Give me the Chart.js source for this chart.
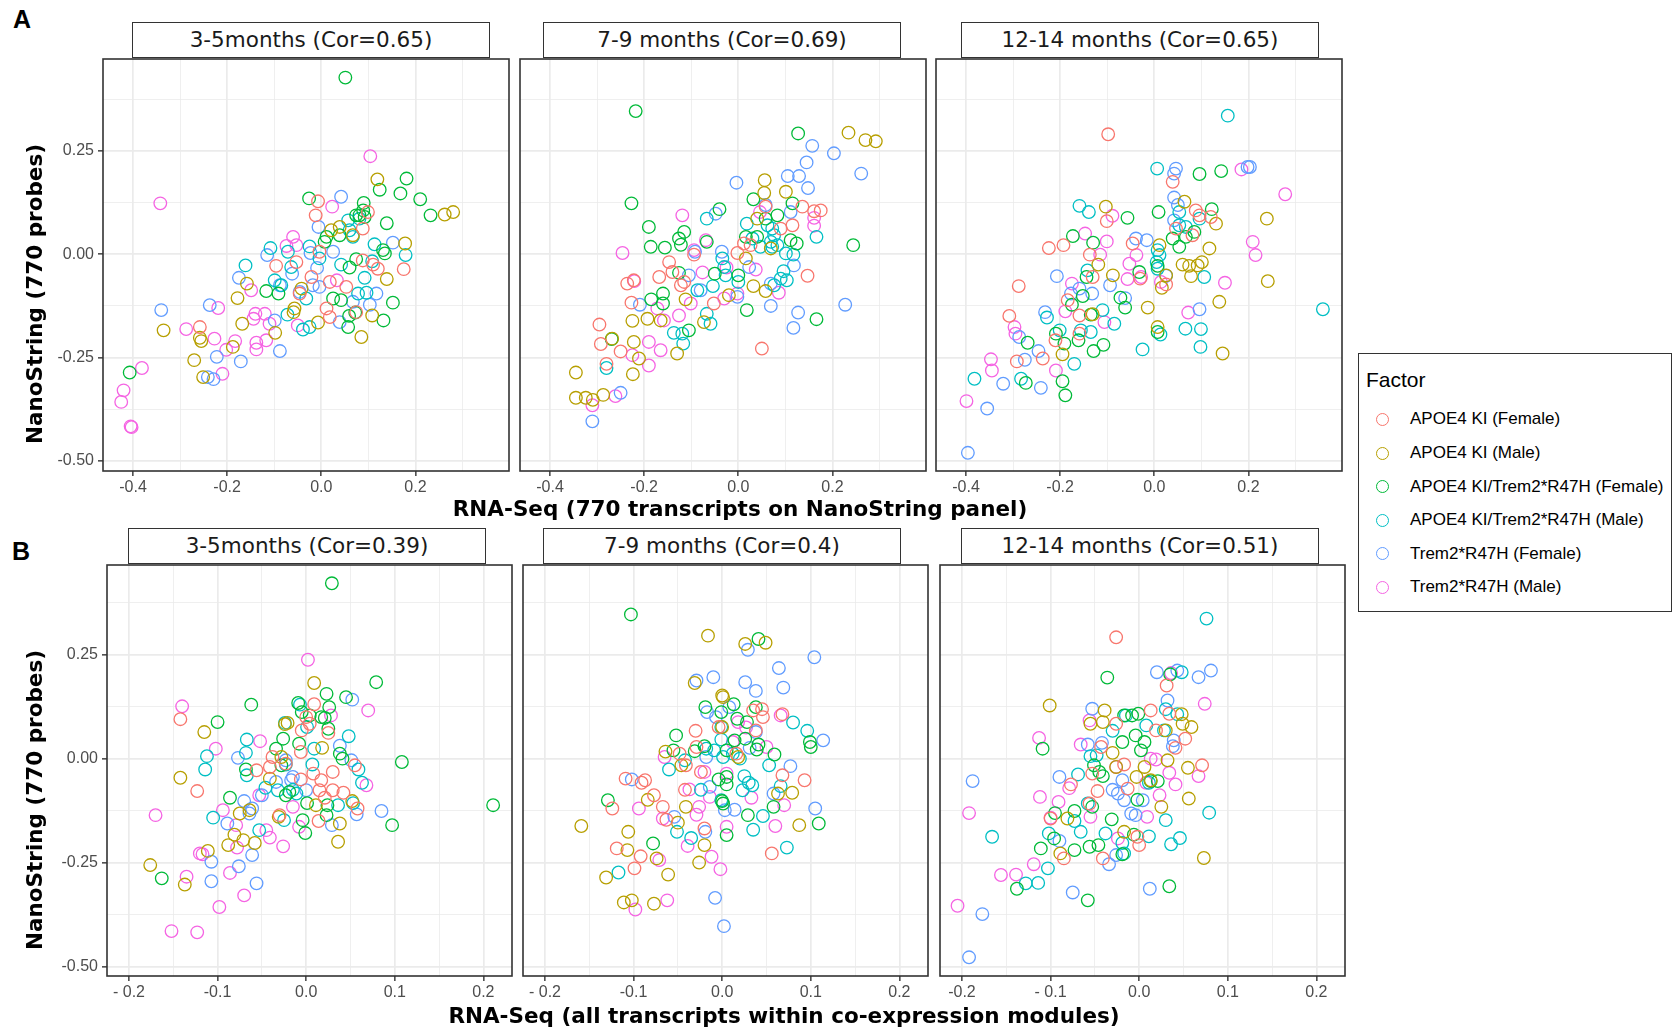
<!DOCTYPE html>
<html>
<head>
<meta charset="utf-8">
<script src="https://cdn.jsdelivr.net/npm/chart.js@4.4.0/dist/chart.umd.min.js"></script>
<style>
  body { margin: 0; width: 1673px; height: 1032px; background: #fff; position: relative; overflow: hidden; font-family: "Liberation Sans", Arial, sans-serif; color: #000; }
  canvas { position: absolute; }
  .strip { position: absolute; box-sizing: border-box; border: 1.5px solid #333; background: #fff; font-family: "DejaVu Sans", sans-serif; font-size: 21.5px; color: #1a1a1a; text-align: center; white-space: nowrap; }
  .tag { position: absolute; font-weight: bold; font-size: 25px; line-height: 25px; }
  .axtitle { position: absolute; font-family: "DejaVu Sans", sans-serif; font-weight: bold; font-size: 21.5px; line-height: 24px; white-space: nowrap; transform: translate(-50%, -50%); }
  .axtitle.rot { transform: translate(-50%, -50%) rotate(-90deg); }
  #legend { position: absolute; left: 1358px; top: 353px; width: 314px; height: 259px; box-sizing: border-box; border: 1.5px solid #333; background: #fff; }
  #legend .title { position: absolute; left: 7px; top: 14px; font-size: 21px; line-height: 24px; }
  #legend .item { position: absolute; left: 17px; height: 20px; display: flex; align-items: center; font-size: 17px; white-space: nowrap; }
  #legend .dot { width: 11px; height: 11px; border-radius: 50%; border: 1.4px solid; margin-right: 21px; }
</style>
</head>
<body>
<div class="tag" style="left:13px;top:7px">A</div>
<div class="tag" style="left:12px;top:539px">B</div>
<div id="legend"><div class="title">Factor</div></div>
<script>
const groups = ['APOE4 KI (Female)', 'APOE4 KI (Male)', 'APOE4 KI/Trem2*R47H (Female)', 'APOE4 KI/Trem2*R47H (Male)', 'Trem2*R47H (Female)', 'Trem2*R47H (Male)'];
const colors = ['#F8766D', '#B79F00', '#00BA38', '#00BFC4', '#619CFF', '#F564E3'];

const titlesA = ['3-5months (Cor=0.65)', '7-9 months (Cor=0.69)', '12-14 months (Cor=0.65)'];
const titlesB = ['3-5months (Cor=0.39)', '7-9 months (Cor=0.4)', '12-14 months (Cor=0.51)'];
const xTitleA = 'RNA-Seq (770 transcripts on NanoString panel)';
const xTitleB = 'RNA-Seq (all transcripts within co-expression modules)';
const yTitle = 'NanoString (770 probes)';

const yMajor = [-0.5, -0.25, 0, 0.25];
const yMinor = [-0.375, -0.125, 0.125, 0.375];
const yLabels = ['-0.50', '-0.25', '0.00', '0.25'];
const xMajorA = [-0.4, -0.2, 0, 0.2];
const xMinorA = [-0.3, -0.1, 0.1, 0.3];
const xLabelsA = ['-0.4', '-0.2', '0.0', '0.2'];
const xMajorB = [-0.2, -0.1, 0, 0.1, 0.2];
const xMinorB = [-0.15, -0.05, 0.05, 0.15];
const xLabelsB1 = ['- 0.2', '-0.1', '0.0', '0.1', '0.2'];
const xLabelsB2 = ['- 0.2', '-0.1', '0.0', '0.1', '0.2'];
const xLabelsB3 = ['-0.2', '- 0.1', '0.0', '0.1', '0.2'];

// Row A, 3-5 months
const a1ApoeF = [[-0.007,0.128],[-0.012,0.094],[0.099,0.102],[0.088,0.062],[0.175,-0.036],[0.120,-0.035],[0.110,-0.025],[0.088,-0.015],[-0.096,-0.028],[-0.053,-0.019],[-0.021,-0.055],[0.018,-0.067],[0.053,-0.079],[0.011,-0.131],[0.018,-0.152],[-0.046,-0.095],[-0.258,-0.176],[-0.004,0.006],[0.074,-0.140]];
const a1ApoeM = [[0.119,0.181],[0.262,0.096],[0.280,0.102],[0.178,0.026],[0.139,-0.060],[0.108,-0.148],[0.085,-0.200],[-0.007,-0.165],[-0.057,-0.131],[-0.059,-0.140],[-0.098,-0.190],[-0.168,-0.168],[-0.178,-0.106],[-0.158,-0.071],[-0.188,-0.224],[-0.258,-0.202],[-0.255,-0.210],[-0.270,-0.256],[-0.251,-0.297],[-0.335,-0.184],[0.021,0.058],[0.039,0.066],[0.067,0.046],[-0.042,-0.083]];
const a1DblF = [[0.051,0.427],[-0.026,0.135],[0.181,0.183],[0.124,0.156],[0.168,0.147],[0.210,0.133],[0.232,0.094],[0.139,0.075],[0.090,0.124],[0.089,0.106],[0.081,0.094],[0.092,0.090],[0.074,0.094],[0.007,0.030],[0.011,0.042],[0.131,0.010],[0.135,0.002],[0.074,-0.012],[0.060,-0.032],[-0.117,-0.089],[-0.091,-0.095],[0.025,-0.107],[0.042,-0.111],[0.152,-0.117],[0.072,-0.141],[0.059,-0.149],[0.132,-0.160],[0.057,-0.176],[-0.407,-0.286],[0.039,0.046]];
const a1DblM = [[-0.108,0.015],[-0.161,-0.027],[-0.025,0.019],[-0.004,-0.010],[-0.071,0.006],[-0.064,-0.031],[-0.099,-0.063],[-0.085,-0.075],[0.042,-0.025],[0.113,0.024],[0.179,-0.002],[0.108,-0.017],[0.092,-0.057],[0.078,-0.095],[0.096,-0.093],[0.067,0.042],[0.060,0.058],[0.057,0.082],[-0.072,-0.146],[-0.039,-0.182],[-0.025,-0.176],[-0.032,-0.107],[0.081,0.086]];
const a1TremF = [[0.042,0.139],[-0.006,0.066],[0.025,0.006],[0.152,0.028],[-0.023,0.003],[-0.009,-0.033],[-0.062,-0.047],[-0.115,-0.002],[-0.175,-0.057],[-0.088,-0.075],[-0.046,-0.091],[-0.004,-0.079],[-0.018,-0.075],[0.117,-0.095],[0.103,-0.122],[0.067,-0.115],[0.039,-0.164],[-0.099,-0.160],[-0.088,-0.234],[-0.171,-0.259],[-0.222,-0.248],[-0.237,-0.123],[-0.340,-0.135],[-0.241,-0.297],[-0.229,-0.302]];
const a1TremM = [[0.104,0.237],[-0.342,0.123],[0.023,0.115],[-0.060,0.042],[-0.053,0.022],[-0.074,0.020],[0.033,-0.063],[-0.149,-0.087],[-0.140,-0.144],[-0.144,-0.156],[-0.120,-0.144],[-0.110,-0.168],[-0.117,-0.208],[-0.138,-0.214],[-0.138,-0.230],[-0.219,-0.130],[-0.287,-0.181],[-0.227,-0.204],[-0.202,-0.231],[-0.183,-0.210],[-0.210,-0.289],[-0.381,-0.275],[-0.420,-0.329],[-0.425,-0.357],[-0.405,-0.416],[-0.403,-0.418],[-0.050,-0.172]];

// Row A, 7-9 months
const a2ApoeF = [[0.136,0.115],[0.161,0.104],[0.175,0.106],[0.115,0.070],[0.058,0.115],[0.147,-0.052],[0.050,-0.228],[-0.002,0.003],[0.012,0.026],[-0.147,-0.019],[-0.168,-0.055],[-0.140,-0.043],[-0.122,-0.075],[-0.115,-0.067],[-0.236,-0.071],[-0.222,-0.063],[-0.227,-0.117],[-0.052,-0.119],[-0.295,-0.170],[-0.292,-0.217],[-0.250,-0.235],[-0.280,-0.265],[-0.094,-0.001],[0.026,0.022],[0.090,0.062]];
const a2ApoeM = [[0.234,0.294],[0.270,0.276],[0.292,0.273],[0.056,0.179],[0.055,0.148],[0.101,0.151],[0.016,-0.010],[0.032,-0.077],[0.058,-0.089],[0.069,0.014],[-0.020,-0.099],[-0.112,-0.109],[-0.073,-0.164],[-0.225,-0.161],[-0.193,-0.156],[-0.165,-0.160],[-0.222,-0.212],[-0.211,-0.252],[-0.130,-0.240],[-0.224,-0.290],[-0.345,-0.286],[-0.345,-0.347],[-0.324,-0.347],[-0.309,-0.352],[-0.287,-0.340],[-0.268,-0.204],[0.040,0.086]];
const a2DblF = [[-0.218,0.346],[-0.227,0.123],[0.127,0.292],[-0.190,0.066],[-0.186,0.018],[-0.156,0.016],[-0.115,0.054],[-0.126,0.038],[-0.122,0.023],[-0.040,0.109],[-0.067,0.030],[-0.126,-0.045],[-0.050,-0.047],[0.000,-0.051],[0.032,0.133],[0.115,0.123],[0.083,0.094],[0.058,0.086],[0.016,0.042],[0.040,0.042],[0.111,0.034],[0.124,0.026],[0.244,0.022],[-0.185,-0.109],[-0.160,-0.095],[-0.160,-0.119],[0.018,-0.135],[0.166,-0.157],[-0.105,-0.184],[-0.269,-0.205]];
const a2DblM = [[-0.067,0.086],[0.018,0.074],[0.062,0.070],[0.072,0.062],[0.076,0.046],[0.069,0.030],[0.083,0.022],[0.072,0.018],[0.030,0.038],[0.047,0.018],[0.101,0.002],[0.117,-0.001],[0.166,0.042],[-0.034,-0.010],[-0.030,-0.031],[-0.027,-0.051],[0.000,-0.067],[-0.054,-0.077],[-0.087,-0.087],[0.096,-0.041],[0.103,-0.063],[0.090,-0.059],[0.076,-0.075],[-0.067,-0.144],[-0.059,-0.168],[-0.137,-0.190],[-0.119,-0.192],[-0.117,-0.216],[-0.280,-0.275]];
const a2TremF = [[-0.004,0.173],[0.157,0.262],[0.145,0.222],[0.203,0.244],[0.261,0.195],[0.105,0.189],[0.129,0.189],[0.148,0.160],[0.058,0.119],[0.111,0.102],[-0.048,0.098],[-0.035,0.006],[-0.105,-0.051],[-0.080,-0.087],[-0.002,-0.103],[0.023,-0.031],[0.069,-0.071],[0.118,-0.027],[0.069,-0.125],[0.127,-0.141],[0.117,-0.178],[0.227,-0.122],[-0.209,-0.122],[-0.250,-0.335],[-0.310,-0.404],[-0.092,0.006]];
const a2TremM = [[-0.119,0.094],[-0.069,0.034],[-0.094,0.010],[-0.246,0.003],[-0.221,-0.065],[-0.076,-0.044],[-0.025,-0.032],[0.037,-0.037],[0.046,0.102],[0.161,0.088],[0.161,0.069],[-0.002,-0.095],[-0.030,-0.107],[0.086,-0.093],[-0.101,-0.119],[-0.172,-0.131],[-0.158,-0.160],[-0.126,-0.148],[-0.190,-0.212],[-0.165,-0.232],[-0.225,-0.244],[-0.190,-0.269],[-0.261,-0.343],[-0.310,-0.365]];

// Row A, 12-14 months
const a3ApoeF = [[-0.098,0.290],[0.039,0.175],[-0.101,0.080],[0.088,0.106],[0.096,0.094],[0.120,0.090],[0.081,0.046],[0.046,0.062],[-0.224,0.015],[-0.193,0.022],[-0.137,-0.001],[-0.046,0.026],[-0.131,-0.055],[-0.030,-0.059],[0.025,-0.073],[-0.288,-0.077],[-0.308,-0.149],[-0.184,-0.111],[-0.159,-0.148],[-0.159,-0.192],[-0.210,-0.208],[-0.292,-0.259],[-0.237,-0.252]];
const a3ApoeM = [[-0.103,0.115],[0.064,0.127],[0.131,0.074],[0.239,0.086],[0.117,0.014],[0.101,-0.019],[0.060,-0.025],[0.074,-0.028],[0.092,-0.027],[0.078,-0.053],[0.241,-0.065],[0.138,-0.115],[0.145,-0.240],[0.011,0.022],[0.025,-0.051],[0.016,-0.081],[-0.088,-0.051],[-0.119,-0.025],[-0.014,-0.129],[0.007,-0.176],[-0.131,-0.145],[-0.195,-0.242]];
const a3DblF = [[0.096,0.194],[0.142,0.201],[0.009,0.102],[0.122,0.109],[-0.057,0.088],[-0.173,0.044],[-0.130,0.028],[0.039,0.038],[0.053,0.018],[0.067,0.042],[0.085,0.054],[-0.032,-0.043],[0.007,-0.028],[-0.144,-0.055],[-0.072,-0.105],[-0.062,-0.129],[-0.152,-0.101],[-0.175,-0.122],[-0.135,-0.146],[-0.209,-0.192],[-0.191,-0.216],[-0.161,-0.208],[-0.108,-0.219],[-0.129,-0.234],[-0.269,-0.214],[-0.273,-0.311],[-0.195,-0.307],[-0.189,-0.341],[0.007,-0.188]];
const a3DblM = [[0.156,0.335],[0.006,0.207],[-0.159,0.117],[-0.139,0.102],[0.053,0.102],[0.053,0.070],[0.067,0.066],[0.096,0.086],[0.007,0.010],[0.011,-0.002],[0.005,-0.019],[0.007,-0.035],[0.106,-0.055],[-0.142,-0.039],[-0.110,-0.135],[-0.228,-0.153],[-0.085,-0.168],[-0.201,-0.184],[-0.156,-0.184],[-0.135,-0.188],[-0.025,-0.230],[0.013,-0.194],[0.066,-0.180],[0.099,-0.181],[0.098,-0.224],[-0.170,-0.265],[-0.283,-0.301],[-0.382,-0.301],[0.358,-0.133]];
const a3TremF = [[0.046,0.207],[0.042,0.195],[0.198,0.211],[0.203,0.211],[0.042,0.137],[0.050,0.119],[0.042,0.082],[-0.039,0.038],[-0.016,0.034],[0.025,-0.052],[-0.094,-0.075],[-0.062,-0.106],[-0.207,-0.053],[-0.177,-0.095],[-0.159,-0.083],[-0.132,-0.095],[-0.232,-0.140],[-0.287,-0.200],[-0.246,-0.234],[-0.275,-0.255],[-0.321,-0.313],[-0.241,-0.323],[-0.355,-0.373],[-0.396,-0.480],[0.096,-0.133]];
const a3TremM = [[0.185,0.205],[0.278,0.145],[0.209,0.030],[0.215,-0.002],[0.150,-0.069],[0.072,-0.141],[-0.089,0.093],[-0.147,0.050],[-0.101,0.031],[-0.115,-0.001],[-0.053,-0.023],[-0.038,-0.002],[-0.057,-0.060],[-0.028,-0.055],[0.014,-0.067],[-0.175,-0.071],[-0.189,-0.138],[-0.106,-0.164],[-0.297,-0.176],[-0.295,-0.192],[-0.347,-0.254],[-0.345,-0.281],[-0.209,-0.281],[-0.399,-0.355]];

// Row B, 3-5 months
const b1ApoeF = [[-0.142,0.095],[0.009,0.131],[0.000,0.100],[0.004,0.084],[0.025,0.062],[-0.005,0.068],[-0.006,0.016],[-0.038,0.004],[-0.056,-0.028],[-0.041,-0.020],[-0.006,-0.050],[0.008,-0.036],[0.017,-0.052],[0.030,-0.032],[0.015,-0.076],[0.021,-0.094],[0.030,-0.076],[0.042,-0.082],[0.055,-0.016],[0.058,-0.120],[0.014,-0.150],[-0.030,-0.136],[-0.123,-0.078],[-0.023,-0.012]];
const b1ApoeM = [[0.009,0.182],[-0.115,0.064],[-0.021,0.086],[-0.024,0.083],[0.018,0.026],[-0.028,0.004],[-0.041,-0.048],[-0.142,-0.046],[0.011,-0.112],[0.052,-0.102],[0.038,-0.156],[0.036,-0.200],[-0.031,-0.140],[-0.064,-0.124],[-0.075,-0.132],[-0.081,-0.183],[-0.071,-0.196],[-0.088,-0.208],[-0.058,-0.203],[-0.111,-0.222],[-0.176,-0.256],[-0.137,-0.303]];
const b1DblF = [[0.029,0.422],[0.079,0.184],[0.023,0.156],[0.045,0.148],[0.026,0.124],[-0.009,0.134],[-0.005,0.112],[0.004,0.104],[0.017,0.100],[0.021,0.098],[0.025,0.072],[-0.062,0.130],[-0.100,0.088],[-0.026,0.048],[-0.034,0.024],[-0.008,0.036],[0.038,0.012],[0.041,0.000],[0.108,-0.008],[-0.068,-0.026],[-0.028,-0.016],[-0.023,-0.088],[-0.086,-0.094],[0.001,-0.107],[0.024,-0.112],[0.023,-0.136],[-0.004,-0.148],[-0.001,-0.179],[0.097,-0.160],[0.211,-0.112],[-0.163,-0.288],[-0.019,-0.080]];
const b1DblM = [[-0.067,0.046],[-0.068,0.014],[-0.112,0.006],[-0.114,-0.026],[-0.067,-0.040],[-0.024,0.086],[-0.007,0.130],[0.001,0.076],[0.009,0.024],[0.007,-0.014],[0.048,0.054],[0.059,-0.026],[0.063,-0.058],[-0.046,-0.070],[-0.032,-0.076],[-0.015,-0.075],[-0.011,-0.084],[-0.023,-0.014],[0.036,-0.112],[0.053,-0.107],[-0.105,-0.142],[-0.053,-0.172],[-0.025,-0.148]];
const b1TremF = [[0.052,0.142],[0.038,0.031],[0.051,-0.004],[-0.077,0.002],[-0.023,-0.004],[-0.017,-0.052],[-0.015,-0.044],[0.000,-0.076],[-0.050,-0.088],[-0.070,-0.102],[-0.061,-0.120],[-0.064,-0.132],[-0.089,-0.156],[0.085,-0.126],[0.057,-0.134],[0.029,-0.160],[-0.061,-0.232],[-0.076,-0.259],[-0.107,-0.248],[-0.107,-0.295],[-0.056,-0.300],[-0.034,-0.056]];
const b1TremM = [[0.002,0.238],[-0.140,0.126],[0.070,0.116],[0.028,0.104],[-0.102,0.024],[-0.052,0.042],[0.068,-0.064],[-0.053,-0.088],[-0.015,-0.116],[-0.008,-0.164],[-0.026,-0.211],[-0.041,-0.190],[-0.045,-0.172],[-0.079,-0.160],[-0.094,-0.124],[-0.078,-0.214],[-0.170,-0.136],[-0.120,-0.228],[-0.117,-0.230],[-0.135,-0.284],[-0.086,-0.275],[-0.070,-0.329],[-0.098,-0.357],[-0.152,-0.415],[-0.123,-0.418]];

// Row B, 7-9 months
const b2ApoeF = [[-0.030,0.067],[-0.029,0.028],[-0.048,0.012],[-0.041,-0.016],[-0.024,-0.032],[0.035,0.116],[0.045,0.119],[0.046,0.100],[0.068,0.107],[0.038,0.068],[-0.004,0.076],[0.068,-0.040],[0.093,-0.052],[-0.109,-0.048],[-0.091,-0.058],[-0.087,-0.052],[-0.077,-0.088],[-0.067,-0.116],[-0.124,-0.120],[-0.063,-0.147],[-0.042,-0.075],[-0.020,-0.168],[-0.119,-0.216],[-0.092,-0.235],[-0.099,-0.264],[0.056,-0.228],[0.016,0.012]];
const b2ApoeM = [[-0.016,0.296],[0.026,0.276],[0.049,0.279],[-0.031,0.182],[0.000,0.152],[0.001,0.148],[0.000,0.076],[-0.064,0.017],[-0.046,-0.016],[0.018,0.004],[0.063,-0.084],[0.079,-0.082],[0.087,-0.160],[-0.041,-0.116],[-0.050,-0.154],[-0.020,-0.208],[-0.026,-0.250],[-0.084,-0.099],[-0.106,-0.176],[-0.107,-0.220],[-0.074,-0.240],[-0.061,-0.279],[-0.131,-0.286],[-0.159,-0.162],[-0.111,-0.346],[-0.102,-0.341],[-0.077,-0.349]];
const b2DblF = [[-0.103,0.347],[0.041,0.288],[-0.019,0.124],[-0.001,0.112],[0.013,0.131],[0.017,0.096],[0.028,0.088],[0.038,0.124],[-0.052,0.056],[-0.055,0.020],[-0.031,0.018],[-0.020,0.030],[0.014,0.044],[0.005,0.020],[0.026,0.048],[0.041,0.034],[0.039,0.022],[0.059,0.010],[0.100,0.028],[0.099,0.040],[-0.004,-0.050],[0.005,-0.044],[0.005,-0.062],[0.000,-0.102],[0.001,-0.108],[0.029,-0.136],[0.058,-0.116],[0.109,-0.156],[0.005,-0.184],[-0.129,-0.100],[-0.078,-0.204]];
const b2DblM = [[0.080,0.087],[0.096,0.067],[0.053,-0.016],[0.066,-0.066],[0.025,-0.042],[0.030,-0.058],[0.023,-0.076],[0.034,-0.064],[-0.001,0.076],[-0.001,0.046],[-0.009,0.020],[-0.018,0.024],[0.001,0.004],[0.012,0.012],[0.020,0.000],[-0.060,-0.026],[-0.024,-0.075],[-0.001,-0.100],[0.046,-0.138],[0.035,-0.171],[0.073,-0.214],[-0.051,-0.176],[-0.035,-0.191],[-0.117,-0.274],[-0.042,-0.004]];
const b2TremF = [[0.104,0.244],[0.064,0.218],[0.069,0.171],[0.026,0.184],[0.038,0.163],[-0.010,0.196],[-0.029,0.188],[0.029,0.262],[-0.017,0.112],[-0.007,0.100],[0.008,0.124],[0.038,0.064],[0.031,0.026],[0.114,0.044],[0.077,-0.018],[0.058,-0.084],[0.105,-0.120],[0.014,-0.123],[0.003,-0.124],[-0.102,-0.050],[-0.054,-0.140],[-0.019,-0.176],[-0.014,-0.068],[-0.008,-0.335],[0.002,-0.403],[-0.018,0.004]];
const b2TremM = [[0.066,0.104],[0.018,0.088],[0.027,0.075],[0.050,0.028],[0.012,0.040],[-0.065,0.004],[-0.020,-0.032],[0.005,-0.036],[-0.037,-0.074],[-0.014,-0.092],[0.033,-0.094],[0.070,-0.112],[-0.026,-0.116],[-0.029,-0.135],[-0.094,-0.120],[-0.067,-0.144],[0.005,-0.164],[0.060,-0.162],[-0.039,-0.210],[-0.012,-0.236],[-0.071,-0.244],[-0.002,-0.266],[-0.062,-0.341],[-0.098,-0.363]];

// Row B, 12-14 months
const b3ApoeF = [[-0.026,0.292],[0.031,0.176],[0.013,0.116],[0.019,0.068],[0.034,0.108],[0.052,0.048],[0.041,0.026],[0.071,-0.016],[-0.017,-0.014],[-0.053,-0.036],[-0.077,-0.062],[-0.047,-0.078],[-0.056,-0.108],[-0.013,-0.072],[-0.002,-0.188],[0.000,-0.208],[-0.041,-0.240],[-0.085,-0.240],[-0.100,-0.144],[-0.043,0.028],[-0.026,0.084]];
const b3ApoeM = [[-0.101,0.128],[-0.039,0.116],[-0.041,0.088],[-0.055,0.084],[0.048,0.107],[0.049,0.084],[0.059,0.076],[0.030,0.068],[0.032,-0.004],[0.055,-0.022],[0.056,-0.096],[0.025,-0.116],[-0.030,0.014],[-0.026,-0.020],[0.006,-0.020],[-0.003,-0.044],[-0.081,-0.144],[-0.017,-0.176],[-0.089,-0.228],[0.073,-0.239],[0.013,-0.052]];
const b3DblF = [[-0.036,0.195],[0.035,0.203],[-0.017,0.104],[-0.008,0.104],[-0.001,0.108],[-0.004,0.056],[0.006,0.040],[-0.019,0.040],[0.002,0.020],[-0.109,0.024],[-0.051,-0.016],[-0.045,-0.032],[-0.041,-0.042],[0.013,-0.054],[0.021,-0.054],[-0.002,-0.099],[-0.053,-0.116],[-0.095,-0.131],[-0.073,-0.126],[-0.031,-0.146],[-0.096,-0.192],[-0.006,-0.183],[-0.111,-0.216],[-0.073,-0.220],[-0.056,-0.212],[-0.046,-0.208],[-0.019,-0.230],[-0.138,-0.313],[-0.058,-0.341],[0.034,-0.307]];
const b3DblM = [[0.076,0.337],[0.048,0.208],[0.030,0.119],[0.043,0.107],[-0.015,0.104],[0.008,0.080],[-0.030,0.067],[0.028,0.068],[-0.055,0.006],[-0.048,0.008],[-0.069,-0.038],[0.011,-0.058],[-0.058,-0.108],[-0.073,-0.150],[-0.066,-0.176],[-0.102,-0.180],[-0.038,-0.180],[-0.019,-0.203],[0.011,-0.187],[0.030,-0.148],[0.046,-0.191],[0.036,-0.206],[0.079,-0.130],[-0.166,-0.188],[-0.103,-0.264],[-0.128,-0.300],[-0.114,-0.299],[-0.017,-0.228]];
const b3TremF = [[0.020,0.208],[0.043,0.212],[0.067,0.196],[0.081,0.212],[0.032,0.140],[-0.053,0.120],[-0.058,0.034],[-0.042,0.038],[0.039,0.044],[0.038,0.030],[-0.090,-0.044],[-0.019,-0.052],[-0.030,-0.075],[-0.024,-0.084],[-0.017,-0.100],[-0.009,-0.132],[-0.004,-0.136],[0.004,-0.100],[-0.090,-0.198],[-0.026,-0.232],[-0.034,-0.254],[0.012,-0.313],[-0.075,-0.322],[-0.188,-0.054],[-0.177,-0.374],[-0.192,-0.478]];
const b3TremM = [[0.074,0.132],[0.036,0.206],[-0.056,0.092],[-0.066,0.034],[-0.113,0.050],[0.013,0.000],[0.019,-0.002],[0.034,-0.034],[0.041,-0.062],[0.067,-0.042],[-0.026,-0.020],[0.023,-0.088],[0.008,-0.058],[-0.079,-0.071],[-0.091,-0.104],[-0.112,-0.092],[-0.100,-0.142],[-0.055,-0.140],[0.009,-0.140],[-0.024,-0.192],[-0.192,-0.131],[-0.119,-0.254],[-0.139,-0.279],[-0.156,-0.280],[-0.205,-0.354]];

Chart.defaults.font.family = "'Liberation Sans', Arial, sans-serif";

const frame = {
  id: 'frame',
  afterDraw(chart) {
    const { ctx, chartArea: a } = chart;
    ctx.save();
    ctx.strokeStyle = '#333';
    ctx.lineWidth = 1.6;
    ctx.strokeRect(a.left, a.top, a.right - a.left, a.bottom - a.top);
    ctx.restore();
  }
};

const tickList = (major, minor) => major.map(v => ({ value: v, major: true }))
  .concat(minor.map(v => ({ value: v, major: false })))
  .sort((a, b) => a.value - b.value);

function addDiv(cls, text, style) {
  const d = document.createElement('div');
  d.className = cls;
  d.textContent = text;
  Object.assign(d.style, style);
  document.body.appendChild(d);
  return d;
}

function makePanel(p) {
  const yW = p.first ? 60 : 3;
  const padTop = 3, padRight = 3, xH = 32;
  const canvas = document.createElement('canvas');
  canvas.width = yW + p.w + padRight;
  canvas.height = padTop + p.h + xH;
  canvas.style.left = (p.left - yW) + 'px';
  canvas.style.top = (p.top - padTop) + 'px';
  document.body.appendChild(canvas);

  const noPad = axis => { axis.paddingLeft = 0; axis.paddingRight = 0; axis.paddingTop = 0; axis.paddingBottom = 0; };
  const gridOpts = {
    color: '#ebebeb',
    lineWidth: c => (c.tick && c.tick.major) ? 1.7 : 0.8,
    tickColor: c => (c.tick && c.tick.major) ? '#333' : 'rgba(0,0,0,0)',
    tickLength: 5,
    tickWidth: 1.4
  };

  new Chart(canvas, {
    type: 'scatter',
    data: {
      datasets: p.sets.map((pts, i) => ({
        label: groups[i],
        data: pts.map(([x, y]) => ({ x, y })),
        borderColor: colors[i],
        backgroundColor: 'rgba(0,0,0,0)',
        borderWidth: 1.3,
        pointRadius: 6.3,
        pointHoverRadius: 6.3
      }))
    },
    options: {
      responsive: false,
      animation: false,
      devicePixelRatio: 1,
      layout: { autoPadding: false, padding: { top: padTop, right: padRight, left: 0, bottom: 0 } },
      plugins: { legend: { display: false }, tooltip: { enabled: false } },
      scales: {
        x: {
          type: 'linear',
          min: p.xMin, max: p.xMax,
          afterBuildTicks: axis => { axis.ticks = tickList(p.xMajor, p.xMinor); },
          afterFit: axis => { axis.height = xH; noPad(axis); },
          ticks: {
            autoSkip: false, maxRotation: 0, padding: 2,
            color: '#4d4d4d', font: { size: 16 },
            callback: v => { const i = p.xMajor.indexOf(v); return i >= 0 ? p.xLabels[i] : ''; }
          },
          grid: gridOpts,
          border: { display: false }
        },
        y: {
          type: 'linear',
          min: p.yMin, max: p.yMax,
          afterBuildTicks: axis => { axis.ticks = tickList(yMajor, yMinor); },
          afterFit: axis => { axis.width = yW; noPad(axis); },
          ticks: {
            display: p.first, autoSkip: false, padding: 4,
            color: '#4d4d4d', font: { size: 16 },
            callback: v => { const i = yMajor.indexOf(v); return i >= 0 ? yLabels[i] : ''; }
          },
          grid: Object.assign({}, gridOpts, { drawTicks: p.first }),
          border: { display: false }
        }
      }
    },
    plugins: [frame]
  });
}

const setsA = [
  [a1ApoeF, a1ApoeM, a1DblF, a1DblM, a1TremF, a1TremM],
  [a2ApoeF, a2ApoeM, a2DblF, a2DblM, a2TremF, a2TremM],
  [a3ApoeF, a3ApoeM, a3DblF, a3DblM, a3TremF, a3TremM]
];
const setsB = [
  [b1ApoeF, b1ApoeM, b1DblF, b1DblM, b1TremF, b1TremM],
  [b2ApoeF, b2ApoeM, b2DblF, b2DblM, b2TremF, b2TremM],
  [b3ApoeF, b3ApoeM, b3DblF, b3DblM, b3TremF, b3TremM]
];

const leftsA = [103, 520, 936], leftsB = [107, 523, 940];
const stripLeftsA = [132, 543, 961], stripLeftsB = [128, 543, 961];
const xLabelsB = [xLabelsB1, xLabelsB2, xLabelsB3];

for (let i = 0; i < 3; i++) {
  makePanel({ first: i === 0, left: leftsA[i], top: 59, w: 406, h: 412,
    xMin: -0.4637, xMax: 0.3986, xMajor: xMajorA, xMinor: xMinorA, xLabels: xLabelsA,
    yMin: -0.524, yMax: 0.472, sets: setsA[i] });
  makePanel({ first: i === 0, left: leftsB[i], top: 565, w: 405, h: 411,
    xMin: -0.2248, xMax: 0.2323, xMajor: xMajorB, xMinor: xMinorB, xLabels: xLabelsB[i],
    yMin: -0.523, yMax: 0.466, sets: setsB[i] });
  addDiv('strip', titlesA[i], { left: stripLeftsA[i] + 'px', top: '22px', width: '358px', height: '36px', lineHeight: '33px' });
  addDiv('strip', titlesB[i], { left: stripLeftsB[i] + 'px', top: '528px', width: '358px', height: '36px', lineHeight: '33px' });
}

addDiv('axtitle', xTitleA, { left: '740px', top: '509px' });
addDiv('axtitle', xTitleB, { left: '784px', top: '1016px' });
addDiv('axtitle rot', yTitle, { left: '35px', top: '294px' });
addDiv('axtitle rot', yTitle, { left: '35px', top: '800px' });

const legend = document.getElementById('legend');
const rowY = [65, 99, 132.7, 166, 199.7, 233];
groups.forEach((g, i) => {
  const it = document.createElement('div');
  it.className = 'item';
  it.style.top = (rowY[i] - 10) + 'px';
  const dot = document.createElement('span');
  dot.className = 'dot';
  dot.style.borderColor = colors[i];
  it.appendChild(dot);
  it.appendChild(document.createTextNode(g));
  legend.appendChild(it);
});
</script>
</body>
</html>
